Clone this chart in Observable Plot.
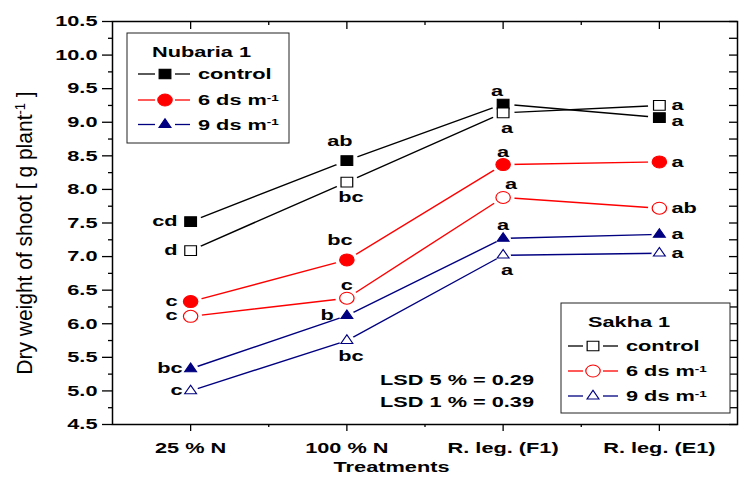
<!DOCTYPE html>
<html><head><meta charset="utf-8">
<script src="https://cdn.jsdelivr.net/npm/d3@7"></script>
<script src="https://cdn.jsdelivr.net/npm/@observablehq/plot@0.6"></script>
<style>
html,body{margin:0;padding:0;background:#fff;}
#chart{width:739px;height:479px;}
</style></head><body><div id="chart"></div>
<script>
// ---------- data ----------
const categories = ["25 % N", "100 % N", "R. leg. (F1)", "R. leg. (E1)"];
const nubariaControl = [7.52, 8.43, 9.27, 9.07];
const nubaria6 = [6.33, 6.95, 8.37, 8.41];
const nubaria9 = [5.33, 6.12, 7.27, 7.33];
const sakhaControl = [7.09, 8.11, 9.14, 9.25];
const sakha6 = [6.11, 6.38, 7.88, 7.72];
const sakha9 = [5.00, 5.75, 7.02, 7.05];
const nubariaControlLetters = ["cd", "ab", "a", "a"];
const nubaria6Letters = ["c", "bc", "a", "a"];
const nubaria9Letters = ["bc", "b", "a", "a"];
const sakhaControlLetters = ["d", "bc", "a", "a"];
const sakha6Letters = ["c", "c", "a", "ab"];
const sakha9Letters = ["c", "bc", "a", "a"];
const yMajorTicks = [4.5, 5.0, 5.5, 6.0, 6.5, 7.0, 7.5, 8.0, 8.5, 9.0, 9.5, 10.0, 10.5];
const yMinorTicks = [4.75, 5.25, 5.75, 6.25, 6.75, 7.25, 7.75, 8.25, 8.75, 9.25, 9.75, 10.25];
const xMajorTicks = [1, 2, 3, 4];
const xMinorTicks = [1.5, 2.5, 3.5];
const legendLabels = ["control", "6 ds m{-1}", "9 ds m{-1}"];
const legendTitles = ["Nubaria 1", "Sakha 1"];
const lsdLines = ["LSD 5 % = 0.29", "LSD 1 % = 0.39"];
const yLabel = "Dry weight of shoot [ g plant{-1} ]";
const xLabel = "Treatments";

// ---------- styles ----------
const BLACK = "#000000", RED = "#ff0000", NAVY = "#000080";
const FONT = "'Liberation Sans', Arial, Helvetica, sans-serif";
const TEXT_STRETCH = 1.45, MARK_STRETCH = 1.2;
const markR = {square: 5.5, circle: 6, triangle: 3.7};
const haloR = {square: 9.5, circle: 9.5, triangle: 6.5};
const places = {
  L:  {dx: -13, bl: 4, anchor: "end"},
  Lt: {dx: -8, bl: 4, anchor: "end"},
  A:  {dx: 0, bl: -8, anchor: "middle"},
  Al: {dx: -6, bl: -8, anchor: "middle"},
  Ar: {dx: 8, bl: -8, anchor: "middle"},
  AA: {dx: -7, bl: -15, anchor: "middle"},
  B:  {dx: 4, bl: 20, anchor: "middle"},
  R:  {dx: 12, bl: 5, anchor: "start"},
  Rb: {dx: 12, bl: 8, anchor: "start"}
};
const series = [
  {name: "nc", values: nubariaControl, letters: nubariaControlLetters, color: BLACK, symbol: "square", filled: true, place: ["L", "AA", "Al", "Rb"]},
  {name: "sc", values: sakhaControl, letters: sakhaControlLetters, color: BLACK, symbol: "square", filled: false, place: ["L", "B", "B", "R"]},
  {name: "n6", values: nubaria6, letters: nubaria6Letters, color: RED, symbol: "circle", filled: true, place: ["L", "AA", "A", "R"]},
  {name: "s6", values: sakha6, letters: sakha6Letters, color: RED, symbol: "circle", filled: false, place: ["L", "A", "Ar", "R"]},
  {name: "n9", values: nubaria9, letters: nubaria9Letters, color: NAVY, symbol: "triangle", filled: true, place: ["Lt", "L", "A", "R"]},
  {name: "s9", values: sakha9, letters: sakha9Letters, color: NAVY, symbol: "triangle", filled: false, place: ["Lt", "B", "B", "R"]}
];
const rows = series.flatMap(s => s.values.map((v, i) => ({
  series: s.name, x: i + 1, y: v, letter: s.letters[i], place: s.place[i]
})));

const W = 739, H = 479, mL = 112, mR = 2, mT = 21, mB = 55;
const innerW = W - mL - mR, innerH = H - mT - mB;
const FS = 15;

const marks = [];
for (const s of series) {
  marks.push(Plot.line(rows.filter(d => d.series === s.name), {x: "x", y: "y", stroke: s.color, strokeWidth: 1.4}));
}
for (const s of series) {
  marks.push(Plot.dot(rows.filter(d => d.series === s.name), {x: "x", y: "y", symbol: "circle", r: haloR[s.symbol], fill: "white", stroke: "none"}));
}
for (const s of series) {
  marks.push(Plot.dot(rows.filter(d => d.series === s.name), {
    x: "x", y: "y", symbol: s.symbol, r: markR[s.symbol],
    fill: s.filled ? s.color : "white", stroke: s.color, strokeWidth: 1
  }));
}
for (const [code, p] of Object.entries(places)) {
  marks.push(Plot.text(rows.filter(d => d.place === code), {
    x: "x", y: "y", text: "letter", dx: p.dx, dy: p.bl - 0.32 * FS,
    textAnchor: p.anchor, lineAnchor: "middle", fontSize: FS, fontWeight: "bold", fill: "black"
  }));
}
// axes
marks.push(
  Plot.axisY({ticks: yMajorTicks, tickSize: 10, tickPadding: 5, tickFormat: d3.format(".1f"), label: null, strokeWidth: 1.3, fontSize: FS, fontWeight: "bold"}),
  Plot.axisY({ticks: yMinorTicks, tickSize: 4, tickFormat: () => "", label: null, strokeWidth: 1.3}),
  Plot.tickY(yMajorTicks.concat(yMinorTicks), {y: d => d, insetLeft: innerW - 8, stroke: "black", strokeWidth: 1.3}),
  Plot.axisX({ticks: xMajorTicks, tickSize: 7, tickPadding: 11, tickFormat: i => categories[i - 1], label: null, strokeWidth: 1.3, fontSize: FS, fontWeight: "bold"}),
  Plot.axisX({ticks: xMinorTicks, tickSize: 3, tickFormat: () => "", label: null, strokeWidth: 1.3}),
  Plot.tickX(xMajorTicks, {x: d => d, insetBottom: innerH - 8, stroke: "black", strokeWidth: 1.3}),
  Plot.tickX(xMinorTicks, {x: d => d, insetBottom: innerH - 4, stroke: "black", strokeWidth: 1.3}),
  Plot.text([xLabel], {text: d => d, frameAnchor: "bottom", textAnchor: "middle", lineAnchor: "middle", dx: -33.5, dy: 43, fontSize: FS, fontWeight: "bold", fill: "black"}),
  Plot.text([yLabel], {text: d => d, frameAnchor: "left", textAnchor: "middle", lineAnchor: "middle", rotate: -90, dx: -88, dy: 10, fontSize: 21, fontWeight: "normal", fill: "black"}),
  Plot.frame({stroke: "black", strokeWidth: 1.5})
);

const plot = Plot.plot({
  width: W, height: H,
  marginLeft: mL, marginRight: mR, marginTop: mT, marginBottom: mB,
  x: {type: "linear", domain: [0.5, 4.5]},
  y: {type: "linear", domain: [4.5, 10.5]},
  style: {fontFamily: FONT, fontSize: FS + "px", color: "black", background: "white", overflow: "visible"},
  marks
});

// ---------- legends & annotation (layout in pixels) ----------
const svg = d3.select(plot);
const symFor = {square: d3.symbolSquare, circle: d3.symbolCircle, triangle: d3.symbolTriangle};
function addSup(sel, str) {
  const m = str.match(/^(.*)\{(.*)\}(.*)$/);
  if (!m) { sel.text(str); return; }
  sel.append("tspan").text(m[1]);
  sel.append("tspan").attr("dy", "-0.5em").attr("font-size", "0.62em").text(m[2]);
  if (m[3]) sel.append("tspan").attr("dy", "0.31em").text(m[3]);
}
function legend(box, title, titleX, titleY, rowsY, lineX1, lineX2, markX, textX, which) {
  const g = svg.append("g").attr("font-family", FONT).attr("font-weight", "bold")
    .attr("font-size", FS).attr("text-anchor", "start");
  g.append("rect").attr("x", box[0]).attr("y", box[1]).attr("width", box[2]).attr("height", box[3])
    .attr("fill", "white").attr("stroke", "#222").attr("stroke-width", 1);
  g.append("text").attr("x", titleX).attr("y", titleY).text(title);
  which.forEach((s, k) => {
    const y = rowsY[k];
    g.append("line").attr("x1", lineX1).attr("x2", markX - 10).attr("y1", y).attr("y2", y).attr("stroke", s.color).attr("stroke-width", 1.3);
    g.append("line").attr("x1", markX + 10).attr("x2", lineX2).attr("y1", y).attr("y2", y).attr("stroke", s.color).attr("stroke-width", 1.3);
    g.append("path").attr("d", d3.symbol(symFor[s.symbol], Math.PI * markR[s.symbol] ** 2)())
      .attr("transform", `translate(${markX},${y}) scale(${MARK_STRETCH},1)`)
      .attr("fill", s.filled ? s.color : "white").attr("stroke", s.color).attr("stroke-width", 1);
    addSup(g.append("text").attr("x", textX).attr("y", y + 5.5), legendLabels[k]);
  });
}
legend([127, 33, 162, 110], legendTitles[0], 152, 57.5, [74, 100, 124.5], 138, 190, 165, 198, [series[0], series[2], series[4]]);
legend([561, 303, 169, 110], legendTitles[1], 588, 327, [346, 371, 396], 568, 618, 593, 626, [series[1], series[3], series[5]]);
const lsd = svg.append("g").attr("font-family", FONT).attr("font-weight", "bold")
  .attr("font-size", FS).attr("text-anchor", "start");
lsdLines.forEach((t, k) => lsd.append("text").attr("x", 380).attr("y", 385 + 22 * k).text(t));

// superscript in y label
svg.selectAll("text").each(function() {
  const t = d3.select(this);
  const s = t.text();
  if (s.includes("Dry weight")) {
    t.text("");
    addSup(t, s);
    t.attr("data-ylabel", "1");
  }
});

// horizontal stretch of texts (the reference is horizontally stretched)
svg.selectAll("text").each(function() {
  const t = this;
  const tr = t.getAttribute("transform") || "";
  if (t.getAttribute("data-ylabel")) {
    t.setAttribute("transform", tr + " scale(1,1.07)");
    return;
  }
  const x = +t.getAttribute("x") || 0, y = +t.getAttribute("y") || 0;
  t.setAttribute("transform", `${tr} translate(${x},${y}) scale(${TEXT_STRETCH},1) translate(${-x},${-y})`);
});
// horizontal stretch of markers
svg.selectAll('g[aria-label="dot"] > *').each(function() {
  const el = this;
  const tr = el.getAttribute("transform") || "";
  const cx = +el.getAttribute("cx") || 0, cy = +el.getAttribute("cy") || 0;
  el.setAttribute("transform", `${tr} translate(${cx},${cy}) scale(${MARK_STRETCH},1) translate(${-cx},${-cy})`);
});

document.getElementById("chart").appendChild(plot);
</script>
</body></html>
